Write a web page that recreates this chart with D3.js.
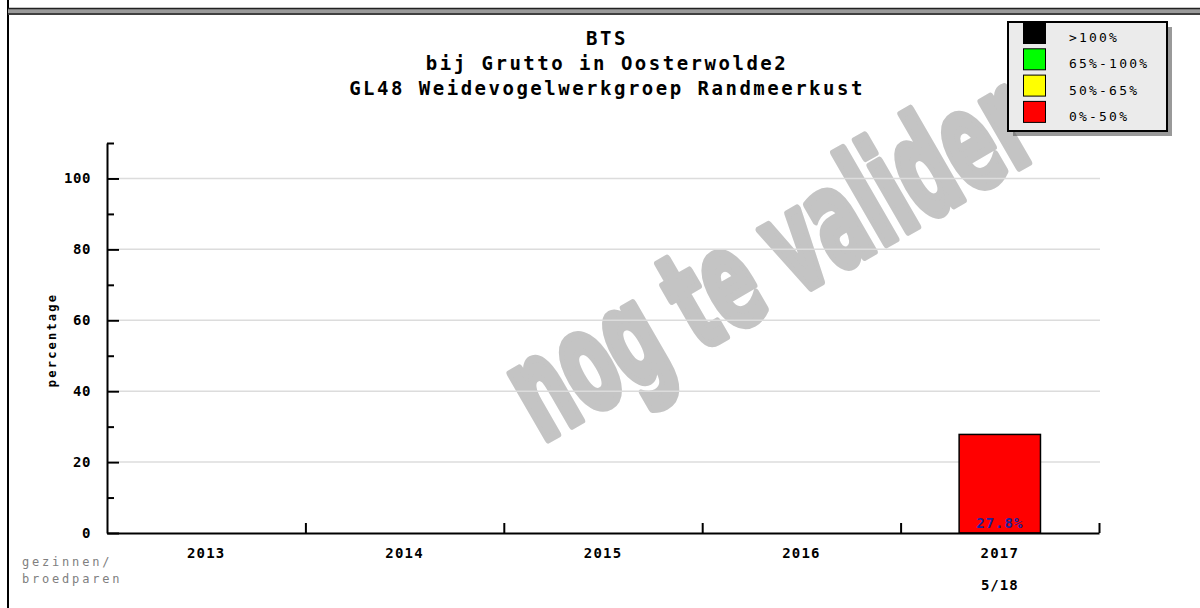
<!DOCTYPE html>
<html>
<head>
<meta charset="utf-8">
<script src="https://cdn.jsdelivr.net/npm/d3@7"></script>
<style>
  body { margin: 0; background: #fff; }
  text { font-family: "DejaVu Sans Mono", monospace; }
</style>
</head>
<body>
<div id="chart"></div>
<script>
// chart data
const years = ['2013', '2014', '2015', '2016', '2017'];
const percentages = [null, null, null, null, 27.8];
const pairCounts = ['', '', '', '', '5/18'];
const yMajorTicks = [0, 20, 40, 60, 80, 100];
const yMinorTicks = [10, 30, 50, 70, 90, 110];
const legendLabels = ['>100%', '65%-100%', '50%-65%', '0%-50%'];
const legendColors = ['#000000', '#00ff00', '#ffff00', '#ff0000'];
const titleLines = ['BTS', 'bij Grutto in Oosterwolde2', 'GL48 Weidevogelwerkgroep Randmeerkust'];

const svg = d3.select('#chart').append('svg')
  .attr('width', 1200)
  .attr('height', 608);

// frame: left line and double line at the top
svg.append('line').attr('x1', 8).attr('x2', 8).attr('y1', 0).attr('y2', 608)
  .attr('stroke', '#000').attr('stroke-width', 2);
svg.append('rect').attr('x', 8).attr('y', 8).attr('width', 1192).attr('height', 7)
  .attr('fill', '#9a9a9a');
svg.append('line').attr('x1', 8).attr('x2', 1200).attr('y1', 8.5).attr('y2', 8.5)
  .attr('stroke', '#222').attr('stroke-width', 1.5);
svg.append('line').attr('x1', 8).attr('x2', 1200).attr('y1', 14).attr('y2', 14)
  .attr('stroke', '#222').attr('stroke-width', 1.5);

// scales
const x = d3.scaleBand().domain(years).range([107, 1099]).padding(0);
const xEdge = d3.scaleLinear().domain([0, years.length]).range([107, 1099]);
const y = d3.scaleLinear().domain([0, 110]).range([533, 143]);

// watermark (under the grid)
svg.append('text')
  .attr('transform', 'translate(793,298) rotate(-30)')
  .attr('text-anchor', 'middle')
  .style('font-family', '"DejaVu Sans Condensed", "DejaVu Sans", sans-serif')
  .style('font-weight', 'bold')
  .style('font-size', '138px')
  .attr('textLength', 580)
  .attr('lengthAdjust', 'spacingAndGlyphs')
  .attr('fill', '#c4c4c4')
  .attr('stroke', '#c4c4c4')
  .attr('stroke-width', 8)
  .attr('stroke-linejoin', 'round')
  .text('nog te valider');

// gridlines
svg.append('g').selectAll('line')
  .data(yMajorTicks.filter(d => d > 0))
  .enter().append('line')
  .attr('x1', 119).attr('x2', 1100)
  .attr('y1', d => y(d)).attr('y2', d => y(d))
  .attr('stroke', '#dcdcdc').attr('stroke-width', 1.5);

// y axis, major ticks with labels
const yAxis = svg.append('g')
  .attr('transform', 'translate(107,0)')
  .call(d3.axisLeft(y).tickValues(yMajorTicks).tickSize(-12).tickSizeOuter(0).tickPadding(16));
yAxis.select('.domain').attr('stroke-width', 2);
yAxis.selectAll('.tick line').attr('stroke-width', 2);
yAxis.selectAll('text')
  .style('font-family', '"DejaVu Sans Mono", monospace')
  .style('font-size', '14px')
  .style('font-weight', 'bold')
  .style('letter-spacing', '0.6px');

// y axis, minor ticks
const yMinor = svg.append('g')
  .attr('transform', 'translate(107,0)')
  .call(d3.axisLeft(y).tickValues(yMinorTicks).tickSize(-7).tickSizeOuter(0).tickFormat(''));
yMinor.select('.domain').remove();
yMinor.selectAll('.tick line').attr('stroke-width', 2);

// bars
svg.append('g').selectAll('rect')
  .data(years.map((d, i) => ({ year: d, value: percentages[i] })).filter(d => d.value != null))
  .enter().append('rect')
  .attr('x', d => x(d.year) + x.bandwidth() * 0.295)
  .attr('width', x.bandwidth() * 0.41)
  .attr('y', d => y(d.value))
  .attr('height', d => y(0) - y(d.value))
  .attr('fill', '#ff0000')
  .attr('stroke', '#000')
  .attr('stroke-width', 1.5);

// x axis with boundary ticks
const xAxis = svg.append('g')
  .attr('transform', 'translate(0,533)')
  .call(d3.axisBottom(xEdge).tickValues(d3.range(1, years.length + 1)).tickSize(-10).tickSizeOuter(0).tickFormat(''));
xAxis.select('.domain').attr('stroke-width', 2);
xAxis.selectAll('.tick line').attr('stroke-width', 2);

// category labels
const xLabels = svg.append('g')
  .attr('transform', 'translate(0,533)')
  .call(d3.axisBottom(x).tickSize(0).tickPadding(15));
xLabels.select('.domain').remove();
xLabels.selectAll('text')
  .style('font-family', '"DejaVu Sans Mono", monospace')
  .style('font-size', '14px')
  .style('font-weight', 'bold')
  .style('letter-spacing', '1.2px');

// pair counts under the years
svg.append('g').selectAll('text')
  .data(years.map((d, i) => ({ year: d, count: pairCounts[i] })))
  .enter().append('text')
  .attr('x', d => x(d.year) + x.bandwidth() / 2)
  .attr('y', 590)
  .attr('text-anchor', 'middle')
  .style('font-size', '14px')
  .style('font-weight', 'bold')
  .style('letter-spacing', '1px')
  .text(d => d.count);

// value labels in bars
svg.append('g').selectAll('text')
  .data(years.map((d, i) => ({ year: d, value: percentages[i] })).filter(d => d.value != null))
  .enter().append('text')
  .attr('x', d => x(d.year) + x.bandwidth() / 2)
  .attr('y', 528)
  .attr('text-anchor', 'middle')
  .attr('fill', '#22229a')
  .style('font-size', '14px')
  .style('font-weight', 'bold')
  .style('letter-spacing', '1px')
  .text(d => d.value.toFixed(1) + '%');

// axis titles
svg.append('text')
  .attr('transform', 'translate(56,340) rotate(-90)')
  .attr('text-anchor', 'middle')
  .style('font-size', '12px')
  .style('font-weight', 'bold')
  .style('letter-spacing', '2.2px')
  .text('percentage');

svg.append('text')
  .attr('x', 22).attr('y', 566)
  .attr('fill', '#808080')
  .style('font-size', '12px')
  .style('letter-spacing', '2.8px')
  .text('gezinnen/');
svg.append('text')
  .attr('x', 22).attr('y', 583)
  .attr('fill', '#808080')
  .style('font-size', '12px')
  .style('letter-spacing', '2.8px')
  .text('broedparen');

// title
svg.append('g').selectAll('text')
  .data(titleLines)
  .enter().append('text')
  .attr('x', 607)
  .attr('y', (d, i) => 45 + i * 25)
  .attr('text-anchor', 'middle')
  .style('font-size', '19px')
  .style('font-weight', 'bold')
  .style('letter-spacing', '2.5px')
  .text(d => d);

// legend
const legend = svg.append('g');
legend.append('rect')
  .attr('x', 1013).attr('y', 27).attr('width', 159).attr('height', 109)
  .attr('fill', '#555').attr('opacity', 0.6);
legend.append('rect')
  .attr('x', 1008).attr('y', 22).attr('width', 159).attr('height', 109)
  .attr('fill', '#ebebeb').attr('stroke', '#000').attr('stroke-width', 2);
legend.selectAll('.sw')
  .data(legendColors)
  .enter().append('rect')
  .attr('x', 1023.5)
  .attr('y', (d, i) => 22.5 + i * 26.3)
  .attr('width', 22).attr('height', 21)
  .attr('fill', d => d)
  .attr('stroke', '#000').attr('stroke-width', 1);
legend.selectAll('.lab')
  .data(legendLabels)
  .enter().append('text')
  .attr('x', 1069)
  .attr('y', (d, i) => 42 + i * 26.3)
  .style('font-size', '13px')
  .style('letter-spacing', '2.2px')
  .text(d => d);
</script>
</body>
</html>
